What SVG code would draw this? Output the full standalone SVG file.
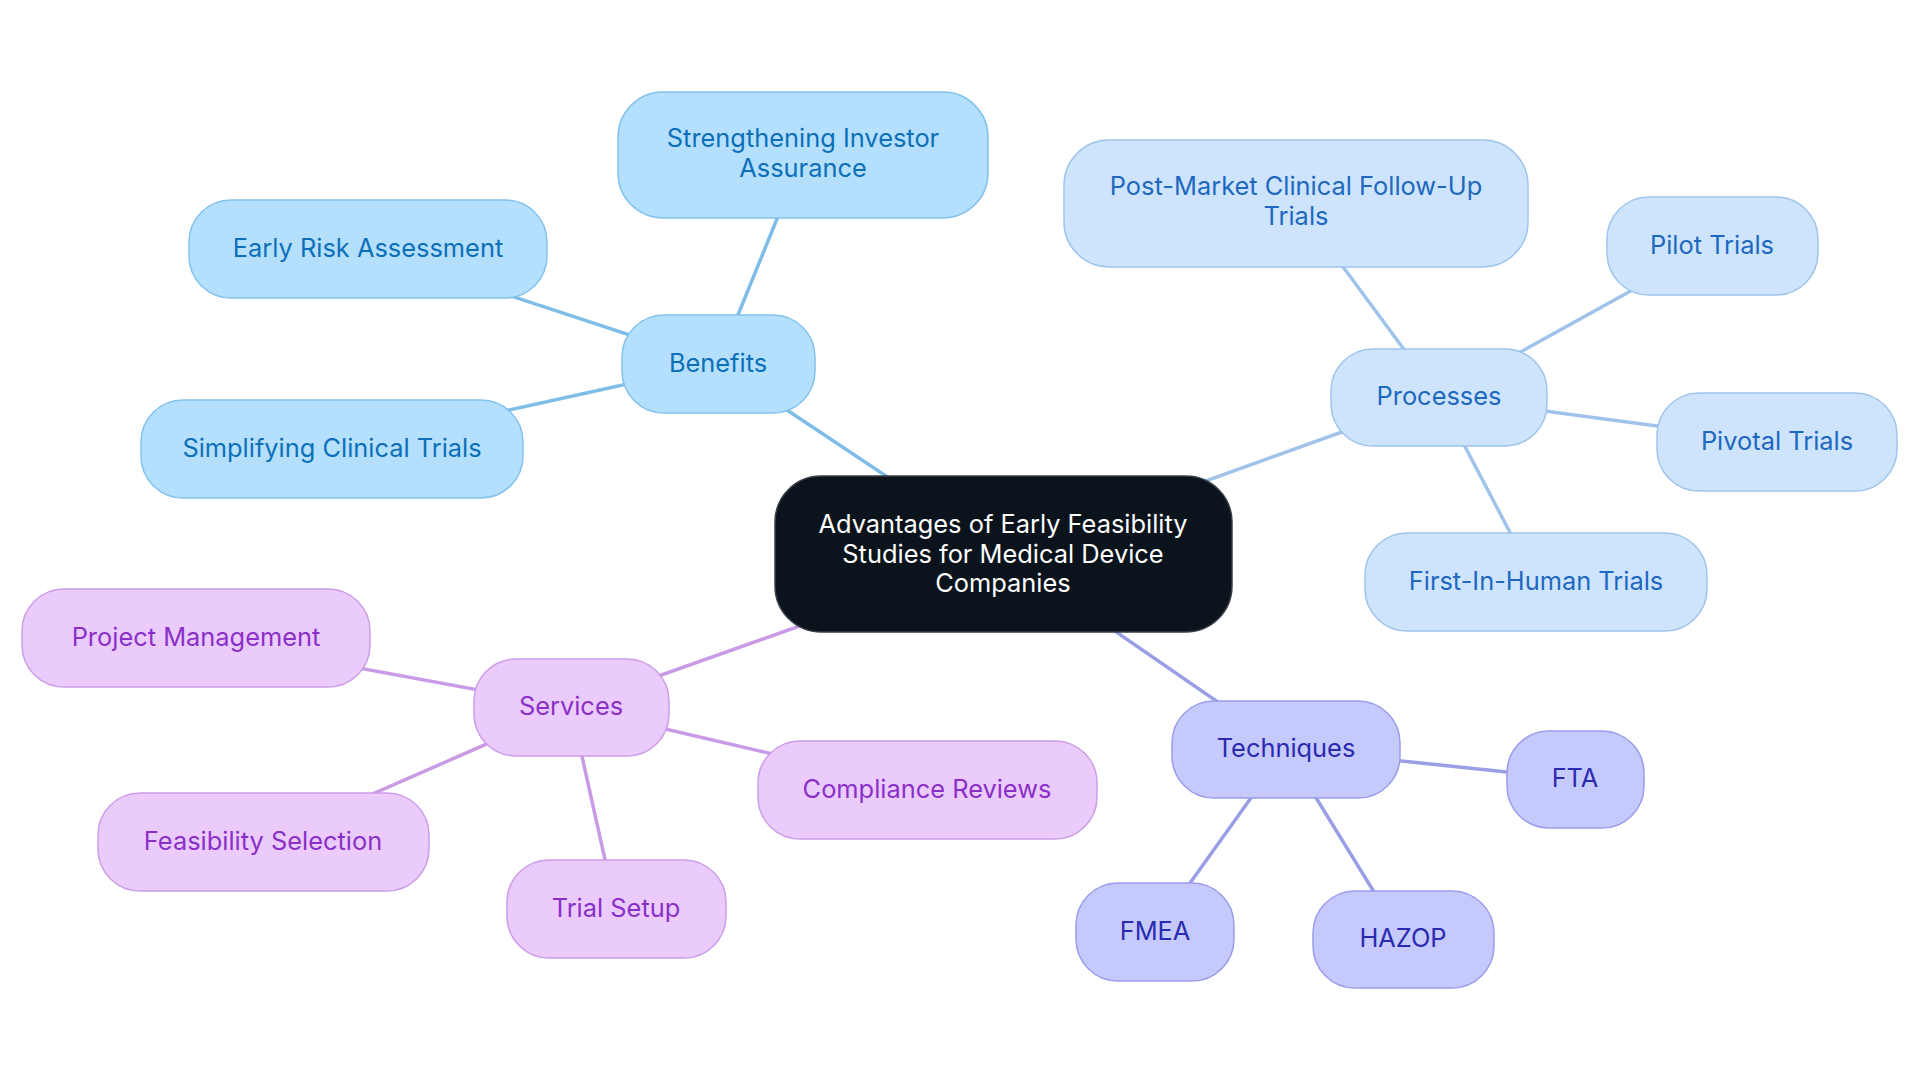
<svg xmlns="http://www.w3.org/2000/svg" width="1920" height="1083" viewBox="0 0 1920 1083">
<style>
text{font-family:Inter,"Noto Sans",sans-serif;font-size:25.4px;text-anchor:middle}
.b rect{fill:#b4e0fd;stroke:#84c2ec;stroke-width:1.5}
.b text{fill:#0d6fb8}
.p rect{fill:#cde4fc;stroke:#9fc4ec;stroke-width:1.5}
.p text{fill:#1e68c0}
.t rect{fill:#c6c9fc;stroke:#9a9deb;stroke-width:1.5}
.t text{fill:#2a2bb0}
.s rect{fill:#eacbfc;stroke:#cd9de8;stroke-width:1.5}
.s text{fill:#8a30c8}
.lb{stroke:#7dbde8}
.lp{stroke:#9fc3ea}
.lt{stroke:#9a9ee6}
.ls{stroke:#c99be6}
#connectors line{stroke-width:3.5}
</style>
<rect width="1920" height="1083" fill="#fff"/>
<g id="connectors">
<line class="lb" x1="1003" y1="554" x2="718" y2="364"/>
<line class="lb" x1="718" y1="364" x2="803" y2="155"/>
<line class="lb" x1="718" y1="364" x2="368" y2="249"/>
<line class="lb" x1="718" y1="364" x2="332" y2="449"/>
<line class="lp" x1="1003" y1="554" x2="1439" y2="397"/>
<line class="lp" x1="1439" y1="397" x2="1296" y2="203"/>
<line class="lp" x1="1439" y1="397" x2="1712" y2="246"/>
<line class="lp" x1="1439" y1="397" x2="1777" y2="442"/>
<line class="lp" x1="1439" y1="397" x2="1536" y2="582"/>
<line class="lt" x1="1003" y1="554" x2="1286" y2="749"/>
<line class="lt" x1="1286" y1="749" x2="1575" y2="779"/>
<line class="lt" x1="1286" y1="749" x2="1403" y2="939"/>
<line class="lt" x1="1286" y1="749" x2="1155" y2="932"/>
<line class="ls" x1="1003" y1="554" x2="571" y2="707"/>
<line class="ls" x1="571" y1="707" x2="196" y2="638"/>
<line class="ls" x1="571" y1="707" x2="263" y2="842"/>
<line class="ls" x1="571" y1="707" x2="616" y2="909"/>
<line class="ls" x1="571" y1="707" x2="927" y2="790"/>
</g>
<g id="root">
<rect x="775" y="476" width="457" height="156" rx="46" fill="#0b141c" stroke="#3a4047" stroke-width="1.5"/>
<text x="1003" y="533" fill="#fff">Advantages of Early Feasibility</text>
<text x="1003" y="563" fill="#fff">Studies for Medical Device</text>
<text x="1003" y="592" fill="#fff">Companies</text>
</g>
<g id="benefits" class="b"><rect x="622" y="315" width="193" height="98" rx="42"/><text x="718" y="372">Benefits</text></g>
<g id="strengthening" class="b"><rect x="618" y="92" width="370" height="126" rx="45"/><text x="803" y="147">Strengthening Investor</text><text x="803" y="177">Assurance</text></g>
<g id="early-risk" class="b"><rect x="189" y="200" width="358" height="98" rx="42"/><text x="368" y="257">Early Risk Assessment</text></g>
<g id="simplifying" class="b"><rect x="141" y="400" width="382" height="98" rx="42"/><text x="332" y="457">Simplifying Clinical Trials</text></g>
<g id="processes" class="p"><rect x="1331" y="349" width="216" height="97" rx="42"/><text x="1439" y="405">Processes</text></g>
<g id="post-market" class="p"><rect x="1064" y="140" width="464" height="127" rx="45"/><text x="1296" y="195">Post-Market Clinical Follow-Up</text><text x="1296" y="225">Trials</text></g>
<g id="pilot" class="p"><rect x="1607" y="197" width="211" height="98" rx="42"/><text x="1712" y="254">Pilot Trials</text></g>
<g id="pivotal" class="p"><rect x="1657" y="393" width="240" height="98" rx="42"/><text x="1777" y="450">Pivotal Trials</text></g>
<g id="first-in-human" class="p"><rect x="1365" y="533" width="342" height="98" rx="42"/><text x="1536" y="590">First-In-Human Trials</text></g>
<g id="techniques" class="t"><rect x="1172" y="701" width="228" height="97" rx="42"/><text x="1286" y="757">Techniques</text></g>
<g id="fta" class="t"><rect x="1507" y="731" width="137" height="97" rx="42"/><text x="1575" y="787">FTA</text></g>
<g id="hazop" class="t"><rect x="1313" y="891" width="181" height="97" rx="42"/><text x="1403" y="947">HAZOP</text></g>
<g id="fmea" class="t"><rect x="1076" y="883" width="158" height="98" rx="42"/><text x="1155" y="940">FMEA</text></g>
<g id="services" class="s"><rect x="474" y="659" width="195" height="97" rx="42"/><text x="571" y="715">Services</text></g>
<g id="project-management" class="s"><rect x="22" y="589" width="348" height="98" rx="42"/><text x="196" y="646">Project Management</text></g>
<g id="feasibility-selection" class="s"><rect x="98" y="793" width="331" height="98" rx="42"/><text x="263" y="850">Feasibility Selection</text></g>
<g id="trial-setup" class="s"><rect x="507" y="860" width="219" height="98" rx="42"/><text x="616" y="917">Trial Setup</text></g>
<g id="compliance-reviews" class="s"><rect x="758" y="741" width="339" height="98" rx="42"/><text x="927" y="798">Compliance Reviews</text></g>
</svg>
